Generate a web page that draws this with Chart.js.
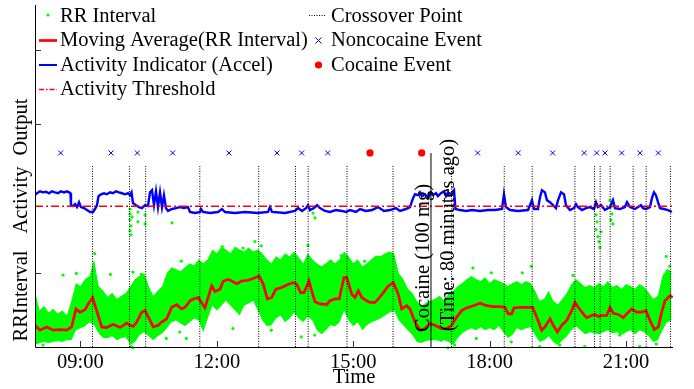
<!DOCTYPE html>
<html><head><meta charset="utf-8">
<script src="https://cdn.jsdelivr.net/npm/chart.js@4/dist/chart.umd.min.js"></script>
<style>html,body{margin:0;padding:0;background:#fff;}canvas{display:block;}</style>
</head><body>
<canvas id="c" width="694" height="389"></canvas>
<script>
// ---- data (time in minutes since midnight, values in normalised plot units) ----
const xTicks = [540, 720, 900, 1080, 1260];
const yTicks = [0.5, 1.5, 2.0];
const xLabel = 'Time';
const yLabels = ['RRInterval', 'Activity', 'Output'];
const legendLeft = ['RR Interval', 'Moving Average(RR Interval)', 'Activity Indicator (Accel)', 'Activity Threshold'];
const legendRight = ['Crossover Point', 'Noncocaine Event', 'Cocaine Event'];
const doseText = ['Cocaine (100 mg)', '(Time: 80 minutes ago)'];

const rrStart = 480, rrStep = 6;
const rrHigh = [0.378,0.245,0.278,0.232,0.258,0.225,0.245,0.212,0.311,0.431,0.411,0.457,0.477,0.590,0.411,0.378,0.338,0.364,0.325,0.345,0.364,0.411,0.457,0.477,0.497,0.411,0.345,0.378,0.411,0.497,0.537,0.524,0.510,0.537,0.563,0.550,0.590,0.563,0.590,0.656,0.630,0.676,0.656,0.630,0.676,0.656,0.643,0.669,0.643,0.656,0.630,0.590,0.563,0.610,0.590,0.630,0.610,0.643,0.603,0.563,0.630,0.590,0.563,0.543,0.563,0.590,0.563,0.590,0.643,0.610,0.563,0.590,0.543,0.563,0.590,0.616,0.610,0.630,0.643,0.630,0.497,0.457,0.391,0.364,0.311,0.278,0.298,0.311,0.325,0.345,0.311,0.364,0.378,0.411,0.431,0.457,0.477,0.457,0.444,0.471,0.431,0.457,0.444,0.431,0.411,0.431,0.444,0.424,0.444,0.431,0.378,0.311,0.325,0.378,0.311,0.285,0.325,0.364,0.424,0.457,0.431,0.404,0.417,0.404,0.431,0.411,0.444,0.404,0.417,0.391,0.424,0.411,0.391,0.424,0.404,0.364,0.325,0.345,0.477,0.524,0.510];
const rrLow = [0.013,0.027,0.033,0.027,0.033,0.040,0.033,0.046,0.046,0.113,0.126,0.139,0.166,0.146,0.093,0.060,0.060,0.073,0.046,0.060,0.066,0.013,0.033,0.080,0.099,0.073,0.046,0.073,0.093,0.126,0.166,0.179,0.159,0.139,0.166,0.192,0.179,0.099,0.192,0.278,0.245,0.278,0.311,0.278,0.245,0.212,0.278,0.292,0.311,0.245,0.179,0.139,0.146,0.192,0.212,0.166,0.192,0.232,0.192,0.166,0.205,0.179,0.113,0.086,0.113,0.146,0.139,0.166,0.245,0.179,0.139,0.166,0.113,0.146,0.166,0.179,0.192,0.212,0.232,0.245,0.179,0.146,0.113,0.080,0.033,0.027,0.040,0.046,0.046,0.040,0.046,0.033,0.013,0.060,0.093,0.113,0.126,0.113,0.133,0.113,0.126,0.113,0.139,0.099,0.060,0.080,0.126,0.113,0.126,0.133,0.080,0.033,0.046,0.073,0.033,0.013,0.046,0.073,0.113,0.139,0.113,0.086,0.099,0.093,0.086,0.099,0.113,0.093,0.099,0.080,0.099,0.113,0.086,0.113,0.099,0.073,0.033,0.046,0.113,0.166,0.179];
const rrOutliers = [[605.4,0.928],[605.4,0.895],[605.4,0.855],[606.7,0.815],[605.4,0.782],[606.7,0.755],[608,0.875],[615.9,0.908],[615.9,0.842],[625.2,0.888],[625.2,0.828],[660.8,0.835],[770.3,0.709],[846.9,0.901],[849.5,0.868],[1219,0.941],[1220.4,0.888],[1221.7,0.842],[1220.4,0.789],[1223,0.742],[1224.3,0.709],[1225.6,0.669],[1227,0.775],[1238.8,0.987],[1240.1,0.941],[1241.5,0.895],[1240.1,0.855],[1242.8,0.828],[517,0.484],[534.5,0.495],[558.8,0.628],[567.5,0.378],[579.4,0.488],[609.3,0.504],[620.3,0.488],[673.1,0.577],[706.1,0.499],[727.2,0.676],[754.5,0.665],[741.3,0.124],[490.6,0.013],[653.3,0.058],[671,0.101],[679.7,0.058],[607.1,0.002],[609.3,-0.005],[778.6,0.681],[840.3,0.683],[884.2,0.614],[915.1,0.577],[831.4,0.068],[849.1,0.080],[791.8,0.113],[1033.9,0.013],[1025,-0.005],[1016.2,0.046],[1058,0.532],[1082.2,0.499],[1123.1,0.499],[1135,0.543],[1190,0.482],[1313.1,0.610],[1317.6,0.543],[1062.4,0.058],[1108.6,0.035],[1146.1,0.002],[1172.5,0.013],[1205.4,0.002],[1278,0.002],[1251.6,0.080],[1300,0.020]];
const movingAverage = [[480,0.146],[486.6,0.113],[495.4,0.135],[504.2,0.113],[513,0.117],[521.8,0.113],[528.4,0.135],[534.1,0.256],[539.4,0.234],[546,0.250],[550.3,0.290],[556.1,0.333],[561.4,0.245],[568,0.135],[574.6,0.131],[583.3,0.152],[592.2,0.131],[601,0.161],[605.4,0.146],[609.7,0.139],[614.2,0.168],[620.8,0.234],[625.2,0.245],[631.8,0.179],[636.1,0.135],[642.7,0.146],[647.2,0.168],[653.8,0.190],[660.4,0.267],[667,0.285],[673.6,0.256],[678,0.267],[684.6,0.311],[689,0.323],[695.5,0.333],[704.3,0.263],[713.2,0.411],[717.5,0.373],[724.1,0.389],[728.5,0.444],[735.1,0.455],[739.6,0.444],[746.2,0.426],[752.8,0.444],[761.5,0.449],[770.3,0.466],[776,0.477],[781.3,0.422],[786.6,0.323],[792.4,0.333],[798,0.389],[805.6,0.400],[814.3,0.422],[820.9,0.433],[825.4,0.422],[830.6,0.366],[835,0.366],[839.4,0.417],[841.6,0.444],[845.2,0.378],[849.5,0.305],[856.1,0.290],[865,0.285],[869.3,0.311],[875.9,0.323],[881.6,0.323],[883.8,0.378],[887.8,0.466],[891.4,0.466],[898,0.356],[902.3,0.333],[906.7,0.378],[911.2,0.333],[917.7,0.311],[922.1,0.300],[928.7,0.300],[933.1,0.323],[939.7,0.366],[946.3,0.411],[952.9,0.433],[959.4,0.356],[963.9,0.256],[970.5,0.278],[974.9,0.256],[981.5,0.168],[988.1,0.113],[994.7,0.124],[1001.3,0.157],[1007.9,0.146],[1016.7,0.124],[1023.3,0.124],[1029.9,0.146],[1036.5,0.201],[1043.1,0.245],[1049.7,0.263],[1058.4,0.278],[1067.3,0.294],[1076.1,0.278],[1084.8,0.272],[1093.7,0.272],[1100.3,0.267],[1104.6,0.223],[1109.1,0.223],[1112.1,0.263],[1120.1,0.267],[1128.9,0.267],[1136.8,0.267],[1142.1,0.201],[1148.7,0.113],[1153,0.135],[1159.7,0.190],[1164,0.146],[1169.3,0.101],[1175.1,0.146],[1181.7,0.179],[1188.3,0.245],[1192.6,0.300],[1197,0.267],[1203.6,0.223],[1208.1,0.197],[1214.7,0.212],[1219,0.219],[1223.4,0.205],[1227.9,0.212],[1234.5,0.212],[1238.8,0.267],[1243.2,0.227],[1249.8,0.219],[1256.4,0.197],[1260.9,0.223],[1267.5,0.256],[1274.1,0.234],[1280.7,0.234],[1286.4,0.245],[1291.6,0.179],[1297.3,0.117],[1302.6,0.135],[1307.1,0.234],[1311.4,0.311],[1318,0.345],[1321.6,0.333]];
const activity = [[480,1.021],[482.6,1.034],[486.6,1.047],[490.6,1.040],[494.5,1.044],[498.5,1.034],[502.4,1.047],[506.4,1.040],[510.4,1.034],[514.3,1.047],[518.3,1.040],[522.2,1.047],[524.9,1.040],[526.8,1.034],[527.5,0.954],[530.1,0.948],[532.8,0.961],[535.4,0.941],[538.1,0.974],[540.7,0.941],[544.7,0.934],[548.6,0.921],[552.6,0.908],[556.5,0.908],[559.2,0.928],[561.8,0.954],[563.8,1.014],[567.1,1.027],[571.1,1.034],[575,1.027],[579,1.040],[582.9,1.034],[586.9,1.047],[590.9,1.040],[594.8,1.034],[598.8,1.027],[602.7,1.034],[605.4,1.021],[607.4,1.040],[609.3,0.968],[613.3,0.954],[617.2,0.941],[621.2,0.934],[625.2,0.954],[629.1,0.948],[631.8,1.040],[634.4,1.054],[637,0.954],[639.7,1.047],[642.3,0.941],[645,1.040],[647.6,0.941],[650.2,1.021],[652.9,0.934],[655.5,0.915],[660.8,0.928],[666.1,0.934],[671.4,0.941],[676.6,0.934],[681.9,0.941],[684.5,0.908],[691.2,0.901],[697.8,0.908],[699.1,0.928],[701.7,0.908],[710.9,0.901],[721.5,0.908],[726.8,0.928],[730.7,0.908],[743.9,0.901],[757.1,0.908],[774.3,0.901],[787.5,0.908],[790.1,0.941],[792.8,0.908],[809.9,0.901],[823.1,0.915],[827.1,0.934],[832.4,0.915],[837.6,0.934],[840.3,0.954],[842.9,0.921],[848.2,0.934],[852.2,0.954],[856.1,0.934],[862.7,0.915],[869.3,0.908],[877.2,0.921],[885.1,0.915],[890.4,0.908],[895.7,0.921],[903.6,0.908],[908.9,0.928],[916.8,0.915],[924.7,0.921],[932.7,0.941],[940.6,0.915],[948.5,0.921],[956.4,0.934],[961.7,0.915],[969.6,0.928],[974.9,0.941],[978.9,1.001],[981.5,1.027],[985.5,1.021],[988.1,1.040],[990.7,1.014],[994.7,1.027],[998.6,1.001],[1002.6,1.040],[1005.2,1.021],[1009.2,1.034],[1011.8,1.014],[1015.8,1.034],[1019.7,1.047],[1022.4,1.014],[1025,1.040],[1029,1.027],[1033,1.054],[1034.9,0.928],[1040.9,0.921],[1048.8,0.915],[1056.7,0.921],[1067.3,0.915],[1077.8,0.921],[1087.1,0.921],[1096.3,0.928],[1098.9,1.027],[1101.6,0.941],[1106.9,0.921],[1117.4,0.915],[1130.6,0.921],[1135.9,0.987],[1138.5,0.928],[1143.8,0.928],[1146.5,1.007],[1149.1,1.054],[1153,1.040],[1155.7,0.987],[1159.6,0.974],[1163.6,0.954],[1167.6,0.934],[1170.2,0.987],[1174.2,1.040],[1178.1,1.027],[1180.8,0.954],[1186,0.921],[1191.3,0.934],[1194,0.961],[1196.6,0.941],[1201.9,0.921],[1207.2,0.934],[1212.4,0.941],[1217.7,0.928],[1220.4,0.974],[1223,0.941],[1227,0.954],[1232.2,0.921],[1238.8,0.941],[1242.8,0.987],[1245.4,0.934],[1252,0.928],[1258.6,0.941],[1261.3,0.974],[1265.2,0.941],[1271.8,0.928],[1275.8,0.941],[1279.7,0.954],[1282.4,0.934],[1286.3,0.928],[1291.6,0.941],[1294.2,1.001],[1296.9,1.040],[1299.5,1.021],[1302.2,0.974],[1304.8,0.934],[1310.1,0.928],[1315.4,0.921],[1320.6,0.908]];
const activityThreshold = 0.946;
const crossoverTimes = [555.9,604.7,626.1,697.5,775.2,823.8,840.5,891.7,952.5,1029.7,1099.3,1136.2,1192.6,1218.4,1225.9,1239.1,1269.4,1286.6,1318.7];
const crossoverTop = 1.219;
const noncocaineTimes = [513.9,580.3,615,661.7,736,799.4,832,866.3,1064.2,1117.8,1163.2,1204.9,1221.3,1232.2,1254.3,1278.4,1302.6];
const cocaineTimes = [922.1,990.3];
const eventLevel = 1.305;
const doseTime = 1002.6;
const xMin = 480, xMax = 1322, yMin = 0, yMax = 2.3;

// ---- build datasets ----
const pts = a => a.map(p => ({x: p[0], y: p[1]}));
const rrLowPts = rrLow.map((v, i) => ({x: rrStart + i * rrStep, y: v}));
const rrHighPts = rrHigh.map((v, i) => ({x: rrStart + i * rrStep, y: v}));
const crossPts = [];
crossoverTimes.forEach(t => { crossPts.push({x: t, y: 0}, {x: t, y: crossoverTop}, {x: t, y: null}); });

const GREEN = '#00ff00', RED = '#ff0000', BLUE = '#0000ff';
const FONT = '20.5px "Liberation Serif", "Times New Roman", serif';

function fmt(t) { return String(Math.floor(t / 60)).padStart(2, '0') + ':' + String(Math.round(t % 60)).padStart(2, '0'); }
function vtext(ctx, s, bx, cy) { ctx.save(); ctx.translate(bx, cy); ctx.rotate(-Math.PI / 2); ctx.textAlign = 'center'; ctx.textBaseline = 'alphabetic'; ctx.fillText(s, 0, 0); ctx.restore(); }

const framePlugin = {
  id: 'frame',
  afterDatasetsDraw(chart) {
    const ctx = chart.ctx, xs = chart.scales.x, ys = chart.scales.y, a = chart.chartArea;
    ctx.save();
    // axes
    ctx.strokeStyle = '#000'; ctx.lineWidth = 1; ctx.setLineDash([]);
    ctx.beginPath();
    ctx.moveTo(a.left + 0.5, a.top); ctx.lineTo(a.left + 0.5, a.bottom + 0.5); ctx.lineTo(a.right, a.bottom + 0.5);
    ctx.stroke();
    ctx.strokeStyle = '#333';
    ctx.beginPath();
    xTicks.forEach(t => { const px = Math.round(xs.getPixelForValue(t)) + 0.5; ctx.moveTo(px, a.bottom); ctx.lineTo(px, a.bottom - 6); });
    yTicks.forEach(t => { const py = Math.round(ys.getPixelForValue(t)) + 0.5; ctx.moveTo(a.left, py); ctx.lineTo(a.left + 6, py); });
    ctx.stroke();
    // text
    ctx.fillStyle = '#000'; ctx.font = FONT; ctx.textAlign = 'center'; ctx.textBaseline = 'alphabetic';
    xTicks.forEach(t => ctx.fillText(fmt(t), xs.getPixelForValue(t), a.bottom + 21));
    ctx.fillText(xLabel, (a.left + a.right) / 2, a.bottom + 36);
    vtext(ctx, yLabels[0], 27, 296);
    vtext(ctx, yLabels[1], 27, 200);
    vtext(ctx, yLabels[2], 27, 127);
    const dx = xs.getPixelForValue(doseTime);
    vtext(ctx, doseText[0], dx - 2, 258);
    vtext(ctx, doseText[1], dx + 23, 235);
    // legend
    const rows = [21.7, 46.2, 70.7, 95.2];
    ctx.textAlign = 'left';
    legendLeft.forEach((s, i) => ctx.fillText(s, 60, rows[i]));
    legendRight.forEach((s, i) => ctx.fillText(s, 331, rows[i]));
    // samples
    ctx.fillStyle = GREEN; ctx.beginPath(); ctx.arc(48, 15, 1.6, 0, Math.PI * 2); ctx.fill();
    ctx.lineWidth = 2.7; ctx.strokeStyle = RED; ctx.beginPath(); ctx.moveTo(39, 40.5); ctx.lineTo(57, 40.5); ctx.stroke();
    ctx.lineWidth = 2; ctx.strokeStyle = BLUE; ctx.beginPath(); ctx.moveTo(39, 65); ctx.lineTo(57, 65); ctx.stroke();
    ctx.lineWidth = 1.5; ctx.strokeStyle = RED; ctx.setLineDash([5, 2, 1.5, 2]); ctx.beginPath(); ctx.moveTo(39, 89.5); ctx.lineTo(57, 89.5); ctx.stroke();
    ctx.lineWidth = 1; ctx.strokeStyle = '#000'; ctx.setLineDash([1, 1.5]); ctx.beginPath(); ctx.moveTo(309, 15.5); ctx.lineTo(326, 15.5); ctx.stroke();
    ctx.setLineDash([]);
    ctx.strokeStyle = BLUE; ctx.lineWidth = 1; ctx.beginPath(); ctx.moveTo(315.5, 37.5); ctx.lineTo(321.5, 43.5); ctx.moveTo(321.5, 37.5); ctx.lineTo(315.5, 43.5); ctx.stroke();
    ctx.fillStyle = RED; ctx.beginPath(); ctx.arc(318.5, 65, 3.6, 0, Math.PI * 2); ctx.fill();
    ctx.restore();
  }
};

new Chart(document.getElementById('c'), {
  type: 'line',
  data: {
    datasets: [
      {label: 'rrLow', data: rrLowPts, borderWidth: 0, pointRadius: 0, fill: false, order: 20},
      {label: 'RR Interval', data: rrHighPts, borderWidth: 0, pointRadius: 0, fill: 0, backgroundColor: GREEN, order: 19},
      {label: 'RR outliers', data: pts(rrOutliers), showLine: false, pointRadius: 1.6, pointStyle: 'circle', backgroundColor: GREEN, borderWidth: 0, clip: false, order: 18},
      {label: 'Moving Average(RR Interval)', data: pts(movingAverage), borderColor: RED, borderWidth: 2.7, pointRadius: 0, fill: false, order: 17},
      {label: 'Activity Indicator (Accel)', data: pts(activity), borderColor: BLUE, borderWidth: 2.4, pointRadius: 0, fill: false, order: 16},
      {label: 'Activity Threshold', data: [{x: xMin, y: activityThreshold}, {x: xMax, y: activityThreshold}], borderColor: RED, borderWidth: 1.5, borderDash: [8, 3, 2, 3], pointRadius: 0, fill: false, order: 15},
      {label: 'Crossover Point', data: crossPts, borderColor: '#000', borderWidth: 1, borderDash: [1, 1.5], pointRadius: 0, fill: false, spanGaps: false, order: 14},
      {label: 'Dose', data: [{x: doseTime, y: 0}, {x: doseTime, y: eventLevel}], borderColor: '#000', borderWidth: 1, pointRadius: 0, fill: false, order: 13},
      {label: 'Noncocaine Event', data: noncocaineTimes.map(t => ({x: t, y: eventLevel})), showLine: false, pointStyle: 'crossRot', pointRadius: 3.5, borderColor: BLUE, borderWidth: 1, backgroundColor: BLUE, order: 12},
      {label: 'Cocaine Event', data: cocaineTimes.map(t => ({x: t, y: eventLevel})), showLine: false, pointStyle: 'circle', pointRadius: 3.6, borderColor: RED, backgroundColor: RED, borderWidth: 0, order: 11}
    ]
  },
  options: {
    responsive: false, animation: false, devicePixelRatio: 1, events: [],
    layout: {padding: {left: 35, right: 21, top: 0, bottom: 42}},
    elements: {line: {tension: 0}},
    scales: {
      x: {type: 'linear', min: xMin, max: xMax, display: false},
      y: {type: 'linear', min: yMin, max: yMax, display: false}
    },
    plugins: {legend: {display: false}, tooltip: {enabled: false}}
  },
  plugins: [framePlugin]
});
</script>
</body></html>
